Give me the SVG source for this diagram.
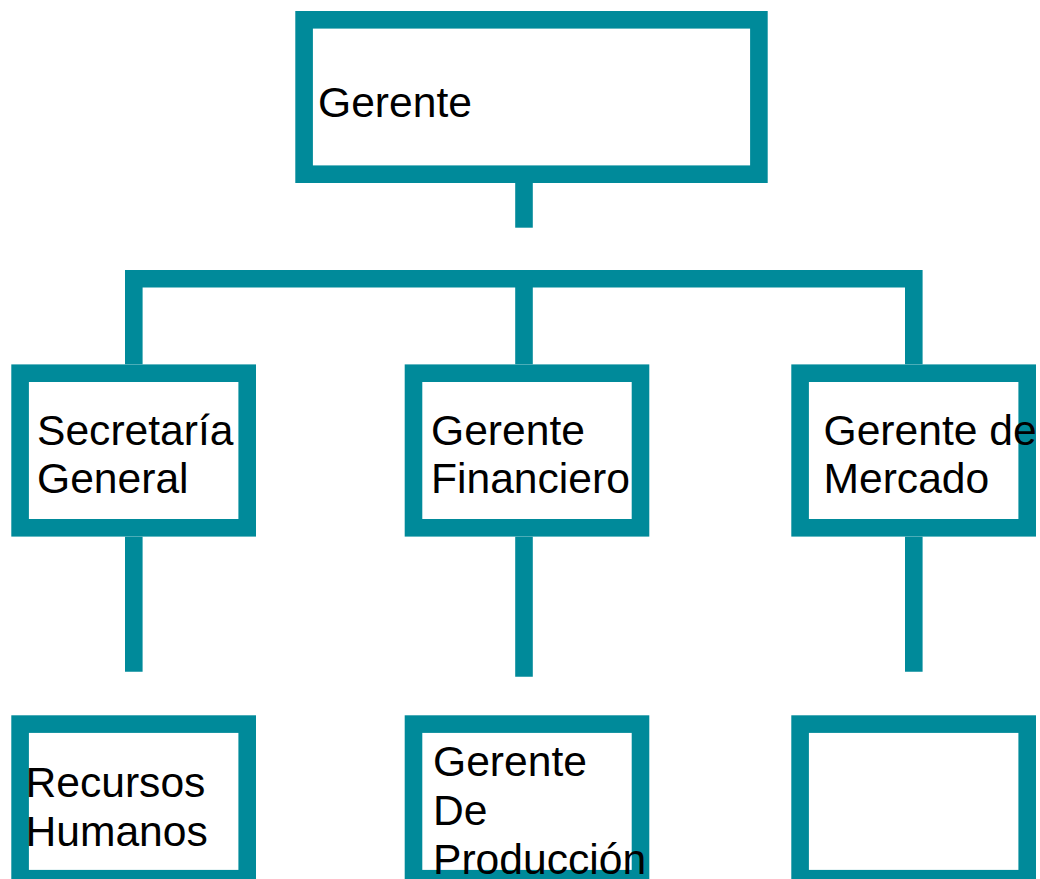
<svg xmlns="http://www.w3.org/2000/svg" width="1040" height="879" viewBox="0 0 1040 879">
<style>
.box{fill:#fff;stroke:#008A9A;stroke-width:17.6}
.con{fill:none;stroke:#008A9A;stroke-width:17.6;stroke-linejoin:miter;stroke-linecap:butt}
.t{font-family:"Liberation Sans",Arial,Helvetica,sans-serif;font-size:42.6px;fill:#000}
</style>
<rect x="0" y="0" width="1040" height="879" fill="#fff"/>
<g id="connectors">
<path class="con" d="M524 183 V227.7"/>
<path class="con" d="M133.8 364.3 V278.7 H913.8 V364.3"/>
<path class="con" d="M524 278.7 V364.3"/>
<path class="con" d="M133.8 536.7 V671.7"/>
<path class="con" d="M524 536.7 V676.7"/>
<path class="con" d="M913.8 536.7 V671.7"/>
</g>
<g id="gerente">
<rect class="box" x="304.1" y="19.8" width="454.8" height="154.4"/>
<text class="t" x="318" y="116.7">Gerente</text>
</g>
<g id="secretaria">
<rect class="box" x="20.1" y="373.2" width="227.1" height="154.6"/>
<text class="t" x="37"><tspan x="37" y="444.6">Secretaría</tspan><tspan x="37" y="493.3">General</tspan></text>
</g>
<g id="financiero">
<rect class="box" x="413.5" y="373.2" width="227" height="154.6"/>
<text class="t"><tspan x="431" y="444.6">Gerente</tspan><tspan x="431" y="493.3">Financiero</tspan></text>
</g>
<g id="mercado">
<rect class="box" x="800.1" y="373.2" width="227.1" height="154.6"/>
<text class="t"><tspan x="823.5" y="444.6">Gerente de</tspan><tspan x="823.5" y="493.3">Mercado</tspan></text>
</g>
<g id="rrhh">
<rect class="box" x="20.1" y="724.1" width="227.1" height="154.6"/>
<text class="t"><tspan x="25.5" y="796.7">Recursos</tspan><tspan x="25.5" y="845.7">Humanos</tspan></text>
</g>
<g id="produccion">
<rect class="box" x="413.5" y="724.1" width="227" height="154.6"/>
<text class="t"><tspan x="433" y="775.5">Gerente</tspan><tspan x="433" y="824.5">De</tspan><tspan x="433" y="873.5">Producción</tspan></text>
</g>
<g id="vacio">
<rect class="box" x="800.1" y="724.1" width="227.1" height="154.6"/>
</g>
</svg>
